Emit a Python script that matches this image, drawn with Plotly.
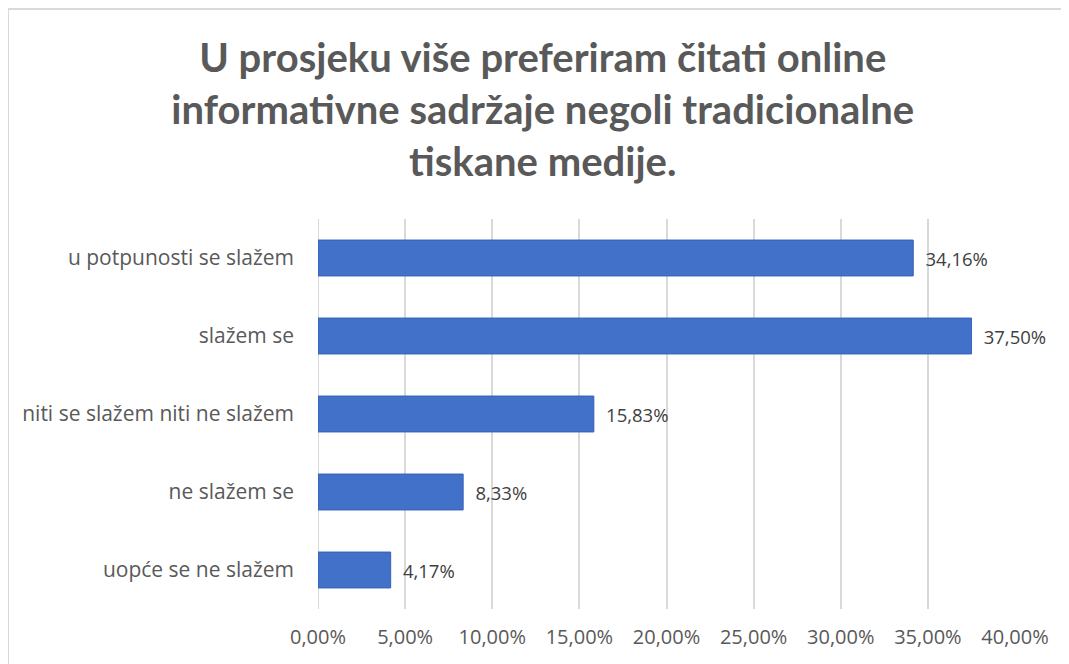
import plotly.graph_objects as go

categories = ["uopće se ne slažem", "ne slažem se", "niti se slažem niti ne slažem",
              "slažem se", "u potpunosti se slažem"]
values = [0.0417, 0.0833, 0.1583, 0.3750, 0.3416]
labels = ["4,17%", "8,33%", "15,83%", "37,50%", "34,16%"]
tick_vals = [0, 0.05, 0.10, 0.15, 0.20, 0.25, 0.30, 0.35, 0.40]

title = ("U prosjeku više preferiram čitati online<br>"
         "informativne sadržaje negoli tradicionalne<br>"
         "tiskane medije.")

# page body has an 8px margin, so the figure is laid out 8px smaller
W, H = 1061, 656
L, R, T, B = 310, 54, 211, 55
pw, ph = W - L - R, H - T - B

fig = go.Figure()
fig.add_trace(go.Bar(
    y=categories, x=values, orientation="h",
    marker=dict(color="#4171C9", line=dict(color="#3560B5", width=1)),
    text=labels, texttemplate="\u2002%{text}", textposition="outside", cliponaxis=False,
    textfont=dict(size=18.5, color="#404040", family="Open Sans"),
    width=0.46,
))

fig.update_layout(
    width=W, height=H,
    margin=dict(l=L, r=R, t=T, b=B, autoexpand=False),
    paper_bgcolor="white", plot_bgcolor="white",
    separators=",.",
    showlegend=False,
    font=dict(family="Open Sans", color="#595959", size=18),
    title=dict(text=title, x=0.504, xref="container", xanchor="center", y=0.9025, yanchor="top",
               font=dict(family="Lato", size=40, color="#595959", weight="bold")),
    xaxis=dict(range=[0, 0.40], tickvals=tick_vals, tickformat=".2%", automargin=False,
               showgrid=True, gridcolor="#D9D9D9", gridwidth=1.5,
               zeroline=False, showline=False, ticks="",
               tickfont=dict(size=20, color="#595959", family="Open Sans"), ticklabelstandoff=14),
    yaxis=dict(categoryorder="array", categoryarray=categories, automargin=False,
               showgrid=False, zeroline=False, showline=False, ticks="",
               tickfont=dict(size=21, color="#595959", family="Open Sans"), ticklabelstandoff=23),
    bargap=0.54,
)

fig.add_shape(type="line", xref="x", yref="paper", x0=0, x1=0, y0=0, y1=1,
              line=dict(color="#D9D9D9", width=2), layer="below")
fig.add_shape(type="rect", xref="paper", yref="paper",
              x0=(0 - L) / pw, x1=(W + 5 - L) / pw,
              y0=(H - B - (H + 5)) / ph, y1=(H - B - 1) / ph,
              line=dict(color="#D9D9D9", width=2), fillcolor="rgba(0,0,0,0)", layer="below")

fig.write_html("out.html")
